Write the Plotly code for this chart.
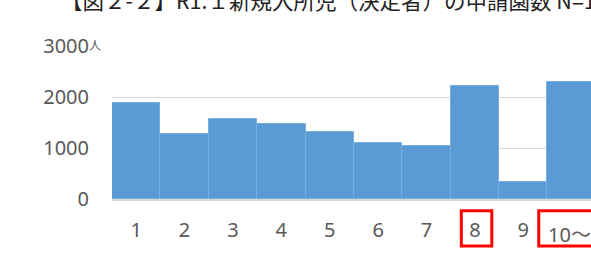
import plotly.graph_objects as go

categories = ["1", "2", "3", "4", "5", "6", "7", "8", "9", "10～"]
values = [1873, 1272, 1560, 1464, 1311, 1090, 1037, 2211, 327, 2295]
y_ticks = [0, 1000, 2000, 3000]
y_tick_labels = ["0", "1000", "2000", "3000"]
highlight = ["8", "10～"]
title_text = f"【図２-２】R1.１新規入所児（決定者）の申請園数 N={sum(values):,}人"

FONT = "Noto Sans, Noto Sans CJK JP, sans-serif"
GRAY = "#595959"

fig = go.Figure()
fig.add_trace(go.Bar(
    x=categories, y=values,
    marker=dict(color="#5b9bd5", line=dict(color="#76aee0", width=1)),
    width=1.0,
))

fig.update_layout(
    width=591, height=270,
    margin=dict(l=112, r=0, t=46, b=71),
    paper_bgcolor="white", plot_bgcolor="white",
    showlegend=False, bargap=0,
    font=dict(family=FONT, size=20, color=GRAY),
    title=dict(
        text=title_text, xref="container", yref="container",
        x=61 / 591, xanchor="left", y=1 - 1.5 / 270, yanchor="middle",
        font=dict(family="Noto Sans CJK JP", size=21.5, color="#222222"),
    ),
)
fig.update_xaxes(
    type="category", range=[-0.5, 9.4],
    tickvals=categories[:-1], ticktext=categories[:-1],
    ticks="outside", ticklen=12, tickcolor="rgba(0,0,0,0)",
    showline=True, linecolor="#d9d9d9", linewidth=2,
    showgrid=False, zeroline=False, automargin=False,
    tickfont=dict(family=FONT, size=20, color=GRAY),
)
fig.update_yaxes(
    range=[0, 3000], tickvals=y_ticks, ticktext=y_tick_labels,
    ticks="outside", ticklen=18, tickcolor="rgba(0,0,0,0)",
    showgrid=True, gridcolor="#d9d9d9", gridwidth=1,
    zeroline=False, showline=False, automargin=False,
    tickfont=dict(family=FONT, size=20, color=GRAY),
)

# last category label (rendered slightly lower, as in the source)
fig.add_annotation(
    x=categories[-1], y=0, xref="x", yref="y",
    text=categories[-1], showarrow=False,
    xanchor="left", yanchor="top", xshift=-26, yshift=-20,
    font=dict(family=FONT, size=20, color=GRAY),
)

# unit label
fig.add_annotation(
    x=-0.5, y=y_ticks[-1], xref="x", yref="y",
    text="人", showarrow=False, xanchor="left", yanchor="middle",
    xshift=-25, yshift=2,
    font=dict(family="Noto Sans CJK JP", size=12, color=GRAY),
)

# red highlight boxes around labels
for cat, (dx0, dx1) in zip(highlight, [(-0.28, 0.35), (-0.68, 0.9)]):
    i = categories.index(cat)
    fig.add_shape(
        type="rect", xref="x", yref="paper",
        x0=i + dx0, x1=i + dx1, y0=-0.307, y1=-0.0765,
        line=dict(color="#ff0000", width=3), fillcolor="rgba(0,0,0,0)",
    )

fig.write_html(
    "out.html",
    config={"displayModeBar": False},
    post_script="document.body.style.margin='0';document.body.style.overflow='hidden';",
)
